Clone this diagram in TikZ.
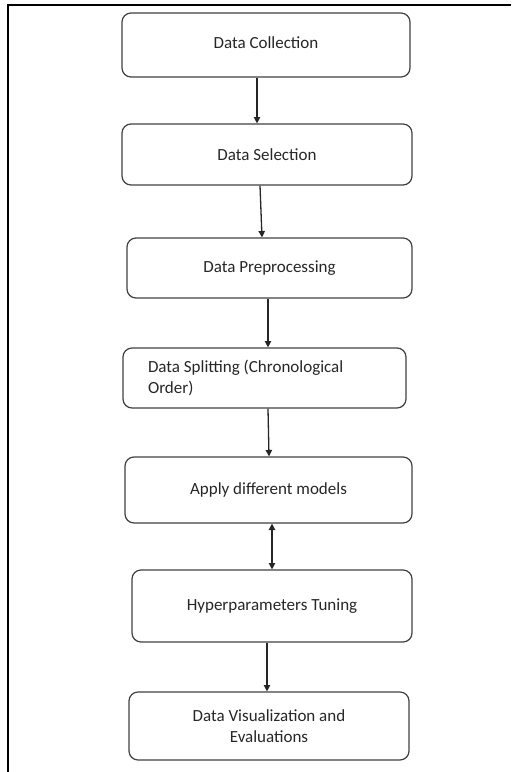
\documentclass[tikz,border=0pt]{standalone}
\usepackage{fontspec}
\setmainfont{Carlito}
\usetikzlibrary{arrows.meta}
\begin{document}
\begin{tikzpicture}[x=0.5pt,y=-0.5pt,
  box/.style={draw=black!75, line width=0.6pt, rounded corners=4.5pt, align=center,
    font=\fontsize{8.5}{10.5}\selectfont, text=black!85, inner sep=0pt},
  arr/.style={draw=black!85, line width=0.65pt, -{Triangle[width=3.2pt,length=3.2pt]}},
  darr/.style={draw=black!85, line width=0.65pt, {Triangle[width=3.2pt,length=3.2pt]}-{Triangle[width=3.2pt,length=3.2pt]}}]
\useasboundingbox (0,0) rectangle (511,772);
\draw[line width=1.1pt] (8,772) -- (8,5) -- (511,5);
\node[box, minimum width=144pt, minimum height=32pt] (n1) at (266,45) {\raisebox{2.5pt}{Data Collection}};
\node[box, minimum width=145pt, minimum height=30.5pt] (n2) at (267,154.5) {Data Selection};
\node[box, minimum width=142.5pt, minimum height=30pt] (n3) at (269.5,268) {Data Preprocessing};
\node[box, minimum width=141.5pt, minimum height=30pt, text width=116.5pt, align=flush left, inner xsep=12.5pt] (n4) at (264.5,378) {Data Splitting (Chronological\\Order)};
\node[box, minimum width=143.5pt, minimum height=33pt] (n5) at (268.5,490) {Apply different models};
\node[box, minimum width=140pt, minimum height=36pt] (n6) at (272,606) {Hyperparameters Tuning};
\node[box, minimum width=140pt, minimum height=34pt] (n7) at (269,726) {Data Visualization and\\Evaluations};
\draw[arr] ([xshift=-4.5pt]n1.south) -- ([xshift=-5pt]n2.north);
\draw[arr] ([xshift=-3.5pt]n2.south) -- ([xshift=-3.75pt]n3.north);
\draw[arr] ([xshift=-0.75pt]n3.south) -- ([xshift=1.75pt]n4.north);
\draw[arr] ([xshift=1.75pt]n4.south) -- ([xshift=0.25pt]n5.north);
\draw[darr] ([xshift=1.75pt]n5.south) -- (n6.north);
\draw[arr] ([xshift=-2.5pt]n6.south) -- ([xshift=-1pt]n7.north);
\end{tikzpicture}
\end{document}
